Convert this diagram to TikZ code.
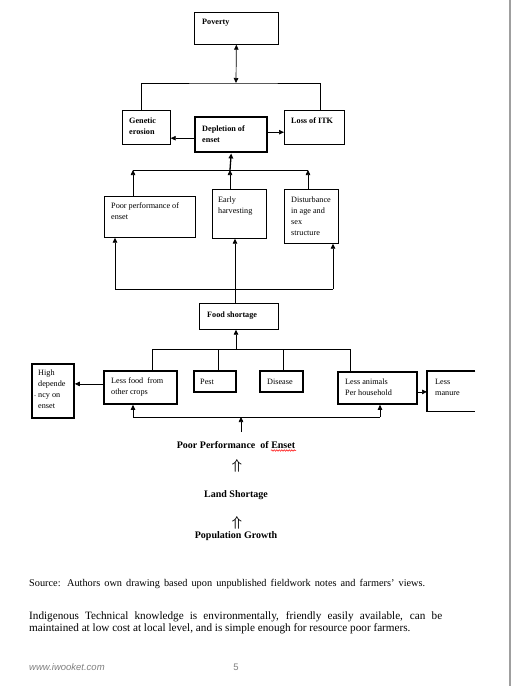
\documentclass[tikz,border=0pt]{standalone}
\usepackage{fontspec}
\setmainfont{Liberation Serif}
\newfontfamily\footfont{Liberation Sans}
\usetikzlibrary{arrows.meta,decorations.pathmorphing}
\newcommand\mlines[1]{\begin{tabular}[t]{@{}l@{}}#1\end{tabular}}
\tikzset{
  thinbox/.style={draw, line width=0.7pt, inner sep=0pt, anchor=north west},
  thickbox/.style={draw, line width=1.8pt, inner sep=0pt, anchor=north west},
  lbl/.style={inner sep=0pt, anchor=base west, font=\fontsize{8.2}{11}\selectfont},
  blbl/.style={lbl, font=\fontsize{8.2}{11}\selectfont\bfseries},
  conn/.style={line width=0.7pt},
  arr/.style={conn, -{Triangle[length=5pt,width=4.5pt]}},
  darr/.style={conn, {Triangle[length=5pt,width=4.5pt]}-{Triangle[length=5pt,width=4.5pt]}},
  mid/.style={inner sep=0pt, anchor=base, font=\fontsize{10}{12}\selectfont\bfseries},
  uparr/.style={inner sep=0pt, anchor=base, font=\fontsize{14}{14}\selectfont\boldmath},
}
\begin{document}
\begin{tikzpicture}[x=1pt,y=-1pt]
\useasboundingbox[fill=white] (0,0) rectangle (512,686);
% page edge
\draw[gray!75, line width=2pt] (510,0) -- (510,686);

% boxes
\node[thinbox, minimum width=84pt, minimum height=32pt] (pov) at (194,12) {};
\node[thinbox, minimum width=48pt, minimum height=34pt] (gen) at (122,110) {};
\node[draw, line width=2.4pt, inner sep=0pt, anchor=north west, minimum width=72pt, minimum height=35pt] (dep) at (194,116) {};
\node[thinbox, minimum width=60pt, minimum height=34pt] (itk) at (284,110) {};
\node[thinbox, minimum width=91pt, minimum height=41pt] (poor) at (104,196) {};
\node[thinbox, minimum width=54pt, minimum height=49pt] (early) at (212,189) {};
\node[thinbox, minimum width=54pt, minimum height=54pt] (dist) at (284,189) {};
\node[thinbox, minimum width=79pt, minimum height=26pt] (fs) at (199,303) {};
\node[thickbox, minimum width=42pt, minimum height=54pt] (hd) at (31,363) {};
\node[thickbox, minimum width=73pt, minimum height=33pt] (lf) at (103,370) {};
\node[thickbox, minimum width=42pt, minimum height=21pt] (pest) at (193,370) {};
\node[thickbox, minimum width=43pt, minimum height=21pt] (dis) at (259,370) {};
\node[thickbox, minimum width=79pt, minimum height=32pt] (la) at (337,371) {};
\node[inner sep=0pt, anchor=north west, minimum width=48pt, minimum height=40pt] (lm) at (427,371) {};
\draw[line width=1.8pt] (lm.north east) -- (lm.north west) -- (lm.south west) -- (lm.south east);

% box texts
\node[blbl] (tpov) at (202,24) {Poverty};
\node[blbl] (tgen) at (129,123) {\mlines{Genetic\\erosion}};
\node[blbl] (tdep) at (202,131) {\mlines{Depletion of\\enset}};
\node[blbl] (titk) at (291,123) {Loss of ITK};
\node[lbl] (tpoor) at (111,208) {\mlines{Poor performance of\\enset}};
\node[lbl] (tearly) at (218,202) {\mlines{Early\\harvesting}};
\node[lbl] (tdist) at (291,202) {\mlines{Disturbance\\in age and\\sex\\structure}};
\node[blbl] (tfs) at (207,317) {Food shortage};
\node[lbl] (thd) at (38,375) {\mlines{High\\depende\\ncy on\\enset}};
\node[lbl] (tdot) at (34,396) {.};
\node[lbl] (tlf) at (111,383) {\mlines{Less food\ \ from\\other crops}};
\node[lbl] (tpest) at (200,384) {Pest};
\node[lbl] (tdis) at (267,384) {Disease};
\node[lbl] (tla) at (345,384) {\mlines{Less animals\\Per household}};
\node[lbl] (tlm) at (435,384) {\mlines{Less\\manure}};

% top connectors
\coordinate (ja) at (236,83);
\draw[darr] (ja) -- (pov.south);
\coordinate (ga) at ([xshift=19pt]gen.north west);
\coordinate (ia) at ([xshift=36pt]itk.north west);
\draw[conn] (ga) |- (ja) -| (ia);
\coordinate (dw) at ([yshift=-3.5pt]dep.west);
\draw[arr] (dw) -- (dw -| gen.east);
\coordinate (de) at ([yshift=2.5pt]dep.east);
\draw[arr] (de) -- (de -| itk.west);

% middle level
\coordinate (m) at (230,170);
\draw[line width=1.3pt, -{Triangle[length=5pt,width=4.5pt]}] (m) -- (dep.south);
\coordinate (pa) at ([xshift=29pt]poor.north west);
\coordinate (ea) at ([xshift=18pt]early.north west);
\coordinate (da) at ([xshift=24pt]dist.north west);
\draw[conn] (pa |- m) -- (da |- m);
\draw[arr] (pa) -- (pa |- m);
\draw[arr] (ea) -- (ea |- m);
\draw[arr] (da) -- (da |- m);

\coordinate (l2) at (235,289);
\coordinate (pb) at ([xshift=11pt]poor.south west);
\coordinate (db) at ([xshift=49pt]dist.south west);
\coordinate (fa) at ([xshift=36pt]fs.north west);
\draw[arr] (fa) -- (fa |- early.south);
\draw[conn] (pb |- l2) -- (db |- l2);
\draw[arr] (pb |- l2) -- (pb);
\draw[arr] (db |- l2) -- (db);

% food shortage inputs
\coordinate (fb) at ([xshift=37pt]fs.south west);
\coordinate (l3) at (236,349);
\draw[arr] (fb |- l3) -- (fb);
\coordinate (lfa) at ([xshift=49pt]lf.north west);
\coordinate (psa) at ([xshift=25pt]pest.north west);
\coordinate (dsa) at ([xshift=24pt]dis.north west);
\coordinate (laa) at ([xshift=13pt]la.north west);
\draw[conn] (lfa) -- (lfa |- l3) -- (laa |- l3) -- (laa);
\draw[conn] (psa) -- (psa |- l3);
\draw[conn] (dsa) -- (dsa |- l3);

\coordinate (lfw) at ([yshift=3.5pt]lf.west);
\draw[arr] (lfw) -- (lfw -| hd.east);
\coordinate (lae) at ([yshift=-4pt]la.east);
\draw[arr] (lae) -- (lae -| lm.west);

% bottom line
\coordinate (lfb) at ([xshift=30pt]lf.south west);
\coordinate (lab) at ([xshift=43pt]la.south west);
\coordinate (l4) at (241,417);
\coordinate (b0) at (241,432);
\draw[conn] (lfb |- l4) -- (lab |- l4);
\draw[arr] (lfb |- l4) -- (lfb);
\draw[arr] (lab |- l4) -- (lab);
\draw[arr] (b0) -- (l4);

% chain text
\node[mid] (ppe) at (236,448) {Poor Performance\ \ of Enset};
\draw[red, line width=0.5pt, decorate, decoration={snake, amplitude=0.7pt, segment length=2.5pt}] (271,450.5) -- (296,450.5);
\node[uparr] (u1) at (237,469) {$\Uparrow$};
\node[mid] (ls) at (236,497) {Land Shortage};
\node[uparr] (u2) at (237,526) {$\Uparrow$};
\node[mid] (pg) at (236,538) {Population Growth};

% notes
\node[inner sep=0pt, anchor=base west, font=\fontsize{10.3}{12}\selectfont] (src) at (29,586)
  {\makebox[396pt][s]{Source:  Authors  own drawing  based  upon unpublished  fieldwork  notes and farmers'  views.}};
\node[inner sep=0pt, anchor=base west, font=\fontsize{11.2}{12}\selectfont] (p1) at (29,619)
  {\makebox[413pt][s]{Indigenous Technical knowledge is environmentally, friendly easily available, can be}};
\node[inner sep=0pt, anchor=base west, font=\fontsize{11.2}{12}\selectfont] (p2) at (29,631)
  {maintained at low cost at local level, and is simple enough for resource poor farmers.};

\node[inner sep=0pt, anchor=base west, text=gray, font=\footfont\itshape\fontsize{9.5}{10}\selectfont] (www) at (29,670) {www.iwooket.com};
\node[inner sep=0pt, anchor=base, text=gray, font=\footfont\fontsize{9.5}{10}\selectfont] (pg5) at (236,670) {5};
\end{tikzpicture}
\end{document}
